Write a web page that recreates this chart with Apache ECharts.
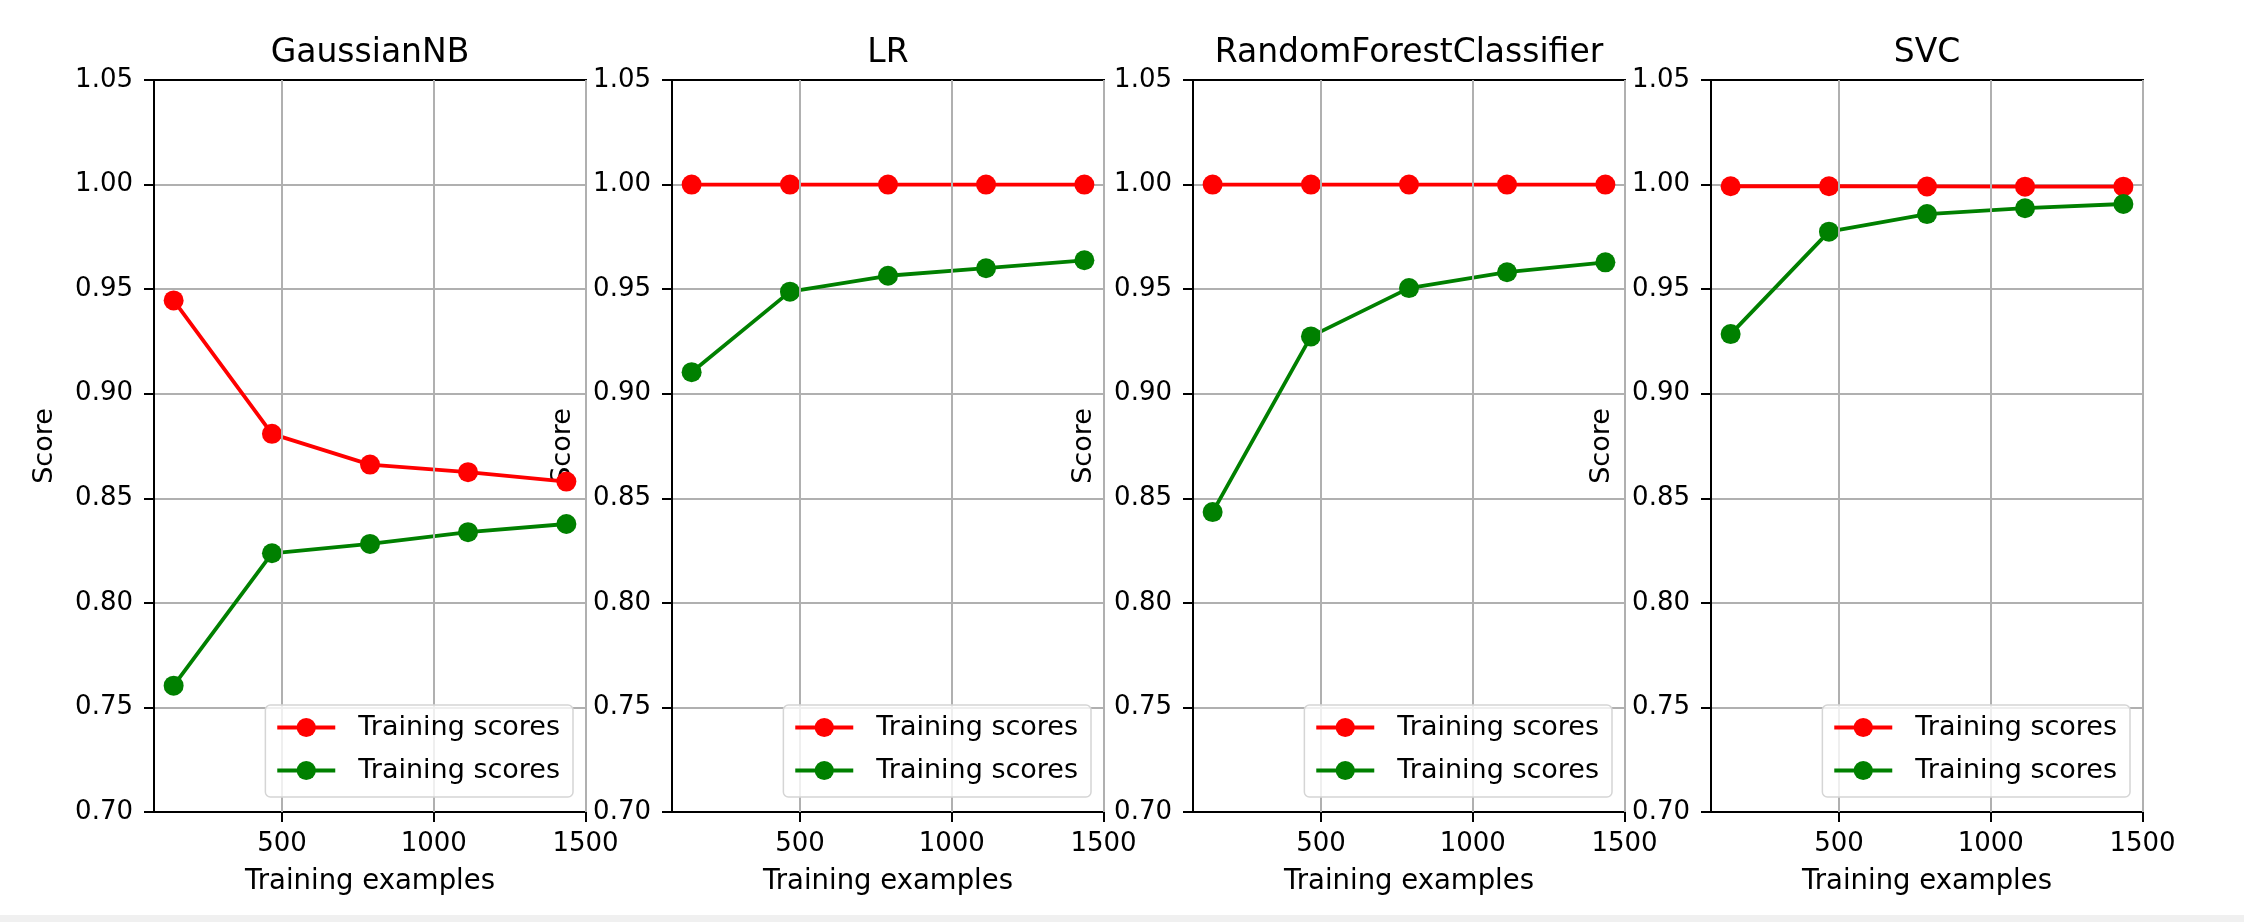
<!DOCTYPE html>
<html>
<head>
<meta charset="utf-8">
<script src="https://cdn.jsdelivr.net/npm/echarts@6/dist/echarts.min.js"></script>
<style>
html,body{margin:0;padding:0;background:#fff;}
#chart{width:2244px;height:922px;}
</style>
</head>
<body>
<div id="chart"></div>
<script>
// ---- data ----
const modelNames = ['GaussianNB', 'LR', 'RandomForestClassifier', 'SVC'];
const trainSizes = [143, 467, 790, 1113, 1437];
const trainScores = [
  [0.9446, 0.8808, 0.8661, 0.8625, 0.8580],
  [1.0, 1.0, 1.0, 1.0, 1.0],
  [1.0, 1.0, 1.0, 1.0, 1.0],
  [0.9992, 0.9992, 0.9991, 0.9990, 0.9990]
];
const cvScores = [
  [0.7604, 0.8237, 0.8282, 0.8338, 0.8377],
  [0.9103, 0.9488, 0.9564, 0.9600, 0.9638],
  [0.8434, 0.9274, 0.9505, 0.9581, 0.9628],
  [0.9285, 0.9775, 0.9859, 0.9887, 0.9907]
];
const xTicks = [500, 1000, 1500];
const legendLabel = 'Training scores';
const xLabel = 'Training examples';
const yLabel = 'Score';

// ---- layout ----
const W = 2244, H = 922;
const plotLefts = [154, 672, 1193, 1711];
const plotW = 432;
const plotTop = 80, plotH = 732;
const xMin = 78.3, xMax = 1501.7;
const font = 'DejaVu Sans';
const gridColor = '#b0b0b0';
const lineW = 3.8;

const grids = [], xAxes = [], yAxes = [], series = [], titles = [], legends = [];
modelNames.forEach((m, i) => {
  const left = plotLefts[i];
  grids.push({
    left: left, top: plotTop, width: plotW, height: plotH,
    show: true, borderColor: '#000', borderWidth: 2, backgroundColor: 'transparent'
  });
  xAxes.push({
    type: 'value', gridIndex: i, min: xMin, max: xMax,
    name: xLabel, nameLocation: 'middle', nameGap: 56,
    nameTextStyle: {fontFamily: font, fontSize: 27.5, color: '#000'},
    axisLine: {show: true, lineStyle: {color: '#000', width: 2}},
    axisTick: {show: true, length: 10, lineStyle: {color: '#000', width: 2}, customValues: xTicks},
    axisLabel: {customValues: xTicks, margin: 19, fontFamily: font, fontSize: 26, color: '#000',
      formatter: v => String(v)},
    splitLine: {show: false}
  });
  yAxes.push({
    type: 'value', gridIndex: i, min: 0.70, max: 1.05, interval: 0.05,
    name: yLabel, nameLocation: 'middle', nameGap: 96,
    nameTextStyle: {fontFamily: font, fontSize: 27, color: '#000'},
    axisLine: {show: true, lineStyle: {color: '#000', width: 2}},
    axisTick: {show: true, length: 10, lineStyle: {color: '#000', width: 2}},
    axisLabel: {margin: 21, fontFamily: font, fontSize: 26, color: '#000',
      formatter: v => v.toFixed(2)},
    splitLine: {show: true, showMinLine: false, showMaxLine: false, lineStyle: {color: gridColor, width: 2}}
  });
  // vertical grid lines at the x tick positions
  series.push({
    name: m + ' grid', type: 'line', xAxisIndex: i, yAxisIndex: i, data: [],
    silent: true, z: 1,
    markLine: {
      silent: true, symbol: ['none', 'none'], label: {show: false},
      lineStyle: {color: gridColor, width: 2, type: 'solid'},
      emphasis: {disabled: true},
      data: xTicks.map(v => ({xAxis: v}))
    }
  });
  const nTrain = m + ' train', nCv = m + ' cv';
  series.push({
    name: nTrain, type: 'line', xAxisIndex: i, yAxisIndex: i,
    data: trainSizes.map((x, j) => [x, trainScores[i][j]]),
    symbol: 'circle', symbolSize: 20, color: '#ff0000',
    lineStyle: {width: lineW, color: '#ff0000'}, itemStyle: {color: '#ff0000'},
    z: 3
  });
  series.push({
    name: nCv, type: 'line', xAxisIndex: i, yAxisIndex: i,
    data: trainSizes.map((x, j) => [x, cvScores[i][j]]),
    symbol: 'circle', symbolSize: 20, color: '#008000',
    lineStyle: {width: lineW, color: '#008000'}, itemStyle: {color: '#008000'},
    z: 4
  });
  titles.push({
    text: m, left: left + plotW / 2, top: 37, textAlign: 'center', padding: 0,
    textStyle: {fontFamily: font, fontSize: 33, fontWeight: 'normal', color: '#000'}
  });
  legends.push({
    data: [nTrain, nCv], orient: 'vertical',
    right: W - (left + plotW - 13), top: 705,
    itemWidth: 58, itemHeight: 24, itemGap: 16,
    padding: [9, 13, 13, 10],
    lineStyle: {width: lineW},
    backgroundColor: 'rgba(255,255,255,0.8)', borderColor: '#d5d5d5', borderWidth: 1.5, borderRadius: 5,
    formatter: () => legendLabel,
    textStyle: {fontFamily: font, fontSize: 27, color: '#000', padding: [0, 0, 0, 18]},
    selectedMode: false, z: 10
  });
});

const chart = echarts.init(document.getElementById('chart'), null, {renderer: 'canvas', width: W, height: H});
chart.setOption({
  animation: false,
  backgroundColor: '#fff',
  title: titles,
  legend: legends,
  grid: grids,
  xAxis: xAxes,
  yAxis: yAxes,
  series: series,
  graphic: [{
    type: 'rect', left: 0, top: 915, shape: {width: W, height: 7},
    style: {fill: '#f0f0f0'}, silent: true
  }]
});
</script>
</body>
</html>
